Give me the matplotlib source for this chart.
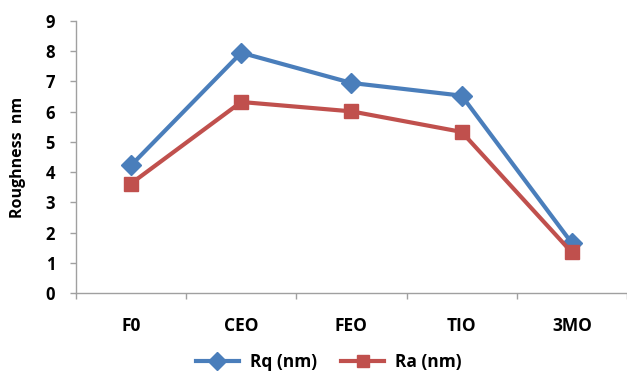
import matplotlib
matplotlib.use("Agg")
import matplotlib.pyplot as plt
import numpy as np

categories = ["F0", "CEO", "FEO", "TIO", "3MO"]
rq_values = [4.22, 7.95, 6.95, 6.53, 1.65]
ra_values = [3.62, 6.32, 6.01, 5.33, 1.34]
y_ticks = list(range(0, 10))

plt.rcParams["font.family"] = ["Open Sans", "DejaVu Sans"]
plt.rcParams["font.weight"] = "bold"

blue = "#4A7EBB"
red = "#C0504D"
axis_gray = "#A0A0A0"

fig = plt.figure(figsize=(6.27, 3.75), dpi=100)
ax = fig.add_axes([0.121, 0.2187, 0.879, 0.7253])

x = np.arange(len(categories))
ax.plot(x, rq_values, color=blue, lw=3, marker="D", markersize=10,
        label="Rq (nm)", solid_joinstyle="miter")
ax.plot(x, ra_values, color=red, lw=3, marker="s", markersize=9.5,
        label="Ra (nm)", solid_joinstyle="miter")

ax.set_xlim(-0.5, len(categories) - 0.5)
ax.set_ylim(0, 9)
ax.set_yticks(y_ticks)
ax.set_yticklabels([str(v) for v in y_ticks], fontsize=12, fontweight="bold")

# category boundaries carry the tick marks, labels sit at the centres
ax.set_xticks(np.arange(-0.5, len(categories)))
ax.set_xticklabels([])
ax.set_xticks(x, minor=True)
ax.set_xticklabels(categories, minor=True, fontsize=12.5, fontweight="bold")
ax.tick_params(axis="x", which="minor", length=0, pad=17)
ax.tick_params(axis="x", which="major", length=4, color=axis_gray, width=1)
ax.tick_params(axis="y", length=4, color=axis_gray, width=1, pad=11)

for side in ["top", "right"]:
    ax.spines[side].set_visible(False)
for side in ["left", "bottom"]:
    ax.spines[side].set_color(axis_gray)
    ax.spines[side].set_linewidth(1)

ax.set_ylabel("Roughness  nm", fontsize=11.5, fontweight="bold")
ax.yaxis.set_label_coords(-0.09, 0.5)

fig.legend(loc="center", bbox_to_anchor=(0.524, 0.035), ncol=2, frameon=False,
           handlelength=2.5, columnspacing=1.4, handletextpad=0.6,
           markerscale=0.95, prop={"weight": "bold", "size": 12.5})

fig.savefig("out.png", dpi=100)
